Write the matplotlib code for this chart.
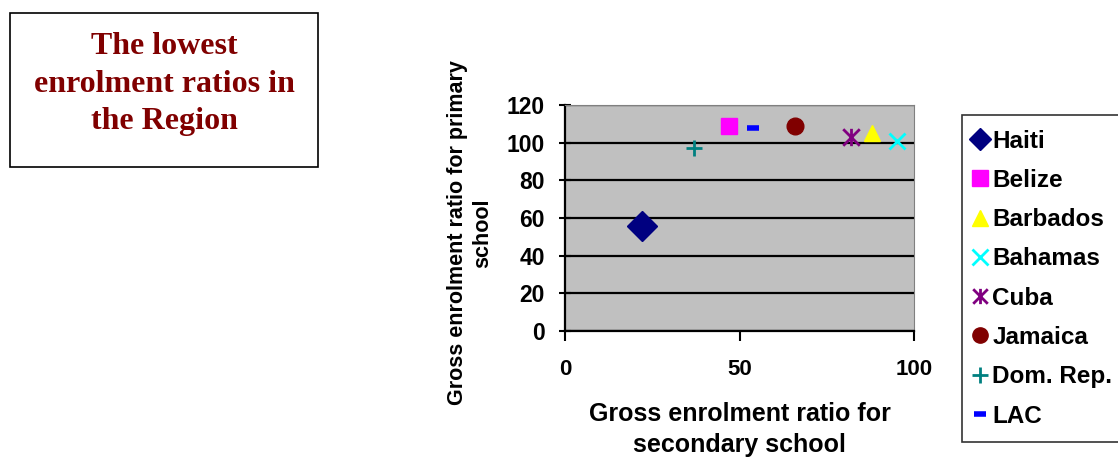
import matplotlib
matplotlib.use("Agg")
import matplotlib.pyplot as plt
from matplotlib.path import Path
from matplotlib.patches import Rectangle

# countries, secondary (x) vs primary (y) gross enrolment ratios
countries = ["Haiti", "Belize", "Barbados", "Bahamas", "Cuba", "Jamaica", "Dom. Rep.", "LAC"]
secondary = [22, 47, 88, 95, 82, 66, 37, 54]
primary = [56, 109, 105, 101, 103, 109, 97, 108]

colors = ["#000080", "#FF00FF", "#FFFF00", "#00FFFF", "#800080", "#800000", "#008080", "#0000FF"]

# excel style asterisk: X plus vertical bar
asterisk = Path([(-1, -1), (1, 1), (-1, 1), (1, -1), (0, -1.05), (0, 1.05)],
                [Path.MOVETO, Path.LINETO, Path.MOVETO, Path.LINETO, Path.MOVETO, Path.LINETO])

styles = [
    dict(marker="D", ms=15),
    dict(marker="s", ms=11.5),
    dict(marker="^", ms=12),
    dict(marker="x", ms=11.5, mew=2),
    dict(marker=asterisk, ms=12.5, mew=2),
    dict(marker="o", ms=12),
    dict(marker="+", ms=12, mew=2),
    dict(marker="_", ms=8, mew=4),
]

plt.rcParams['font.family'] = ['Liberation Sans', 'DejaVu Sans']
plt.rcParams['font.weight'] = 'bold'

fig = plt.figure(figsize=(11.18, 4.59), dpi=100)
ax = fig.add_axes([565/1118, 1-331/459, 349/1118, 226/459])
ax.set_facecolor("#C0C0C0")

for name, x, y, c, st in zip(countries, secondary, primary, colors, styles):
    ax.plot([x], [y], linestyle="none", color=c, mfc=c, mec=c, label=name, zorder=3, **st)

ax.set_xlim(0, 100)
ax.set_ylim(0, 120)
ax.set_xticks([0, 50, 100])
ax.set_yticks(range(0, 121, 20))
ax.yaxis.grid(True, color="black", linewidth=1.6)
ax.set_axisbelow(True)
ax.tick_params(axis="y", direction="inout", length=9, width=1.5, labelsize=16.5, pad=10)
ax.tick_params(axis="x", direction="out", length=7, width=1.5, labelsize=16, pad=13)
for lab in ax.get_xticklabels() + ax.get_yticklabels():
    lab.set_fontweight("bold")
ax.spines["left"].set_linewidth(1.6)
ax.spines["bottom"].set_linewidth(1.6)
ax.spines["top"].set_color("#808080")
ax.spines["right"].set_color("#808080")

ax.set_xlabel("Gross enrolment ratio for\nsecondary school", fontsize=18, fontweight="bold",
              labelpad=16, linespacing=1.38)
ax.set_ylabel("Gross enrolment ratio for primary\nschool", fontsize=15.5, fontweight="bold",
              linespacing=1.25)
ax.yaxis.set_label_coords(-0.205, 0.434)

leg = ax.legend(loc="upper left", bbox_to_anchor=(962/1118, 1-115/459), bbox_transform=fig.transFigure,
                frameon=True, fancybox=False, edgecolor="black", labelspacing=0.67,
                handlelength=0.3, handletextpad=0.35, borderpad=0.6, borderaxespad=0,
                prop={"weight": "bold", "size": 17.5})
leg.get_frame().set_linewidth(1.2)
for h in leg.legend_handles:
    h.set_markersize(min(h.get_markersize(), 11))

# title box
fig.patches.append(Rectangle((10/1118, 1-167/459), 308/1118, 154/459, transform=fig.transFigure,
                             fill=False, edgecolor="black", linewidth=1.2))
fig.text(164/1118, 1-84/459, "The lowest\nenrolment ratios in\nthe Region", ha="center", va="center",
         family=["Liberation Serif", "DejaVu Serif"], fontweight="bold", fontsize=23,
         color="#800000", linespacing=1.37)

fig.savefig("out.png", dpi=100)
